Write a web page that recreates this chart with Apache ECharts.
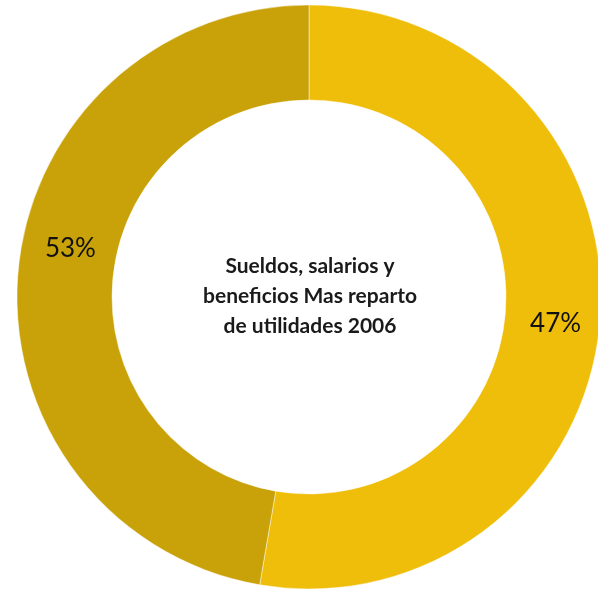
<!DOCTYPE html>
<html>
<head>
<meta charset="utf-8">
<script src="https://cdn.jsdelivr.net/npm/echarts@6/dist/echarts.min.js"></script>
<style>
html,body{margin:0;padding:0;background:#fff;}
#chart{width:598px;height:591px;}
</style>
</head>
<body>
<div id="chart"></div>
<script>
// Data (slice spans) and the printed labels
var categories = ['A', 'B'];
var values = [52.7, 47.3];
var labelTexts = ['47%', '53%'];
var centerTitle = 'Sueldos, salarios y\nbeneficios Mas reparto\nde utilidades 2006';

var colors = ['#EFBE0A', '#C9A108'];
var labelOffsets = [[0, 6], [8, -27]];

var chart = echarts.init(document.getElementById('chart'), null, {renderer: 'canvas'});
var data = categories.map(function (c, i) {
  return {
    name: c,
    value: values[i],
    itemStyle: {color: colors[i]},
    label: {offset: labelOffsets[i]}
  };
});

chart.setOption({
  animation: false,
  backgroundColor: '#ffffff',
  graphic: [{
    type: 'text',
    x: 310,
    y: 296,
    style: {
      text: centerTitle,
      align: 'center',
      verticalAlign: 'middle',
      fill: '#1a1a1a',
      font: 'bold 21px Lato',
      lineHeight: 30
    },
    z: 10
  }],
  series: [{
    type: 'pie',
    center: [309, 297],
    radius: [197, 292],
    startAngle: 90,
    clockwise: true,
    silent: true,
    data: data,
    itemStyle: {borderColor: 'rgba(255,255,255,0.45)', borderWidth: 1},
    label: {
      show: true,
      position: 'inside',
      formatter: function (p) { return labelTexts[p.dataIndex]; },
      color: '#111',
      fontFamily: 'Lato',
      fontSize: 26
    },
    labelLine: {show: false},
    emphasis: {disabled: true}
  }]
});
</script>
</body>
</html>
